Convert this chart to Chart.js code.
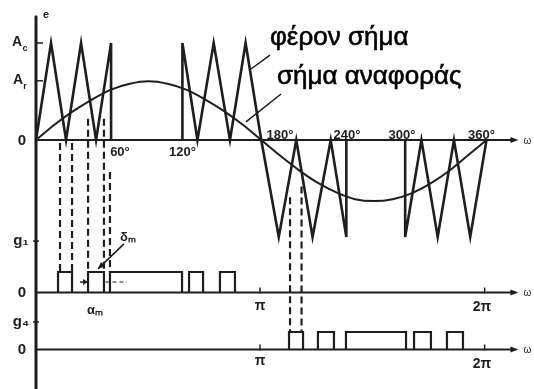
<!DOCTYPE html>
<html>
<head>
<meta charset="utf-8">
<script src="https://cdn.jsdelivr.net/npm/chart.js@4/dist/chart.umd.min.js"></script>
<style>
  html, body { margin: 0; padding: 0; background: #fff; }
  #wrap { width: 534px; height: 389px; position: relative; }
</style>
</head>
<body>
<div id="wrap"><canvas id="pwm"></canvas></div>
<script>
// ωt in degrees, amplitude in units of A_c (null = line break)
const carrierX = [0, 12, 24, 36, 48, 60, 60, 90, 117, 117, 129, 142, 155, 167.5, 180, 194, 208, 221, 235.5, 248, 248, 270, 295, 295, 308, 321, 334, 347, 360];
const carrierY = [0, 1, 0, 1, 0, 1, 0, null, 0, 1, 0, 1, 0, 1, 0, -1, 0, -1, 0, -1, 0, null, 0, -1, 0, -1, 0, -1, 0];

// reference (modulating) signal
const refX = [0, 15, 30, 45, 60, 75, 90, 105, 120, 135, 150, 165, 180, 195, 210, 225, 240, 255, 270, 285, 300, 315, 330, 345, 360];
const refY = [0, 0.16, 0.30, 0.42, 0.52, 0.58, 0.605, 0.58, 0.52, 0.42, 0.30, 0.16, 0, -0.16, -0.31, -0.44, -0.54, -0.61, -0.63, -0.61, -0.55, -0.45, -0.32, -0.16, 0];

// gate pulses [on, off] in degrees
const g1Pulses = [[17.6, 28.8], [41.6, 54.3], [59.1, 116.7], [122.3, 133.5], [147, 159]];
const g4Pulses = [[202.2, 213.4], [225.3, 238.1], [247.7, 295.7], [302.1, 315.6], [328.4, 341.2]];

// dashed projections: angle and starting level on the e axis
const g1DropX = [19.2, 28.8, 41.6, 54.3, 59.1];
const g1DropFrom = [0, 0, 0.25, 0.25, -0.3];
const g4DropX = [203, 212.2];
const g4DropFrom = [-0.59, -0.48];

// tick labels along ωt
const degLabels = ['60°', '120°', '180°', '240°', '300°', '360°'];
const degLabelX = [67.1, 117.1, 195, 248.5, 292.5, 356];
const degLabelY = [-0.13, -0.13, 0.05, 0.05, 0.05, 0.05];

const INK = '#1e1e1e';

function toPoints(xs, ys) {
  return xs.map((v, i) => ({ x: v, y: ys[i] }));
}

function pulsePoints(pulses) {
  const pts = [];
  pulses.forEach(p => {
    pts.push({ x: p[0], y: 0 }, { x: p[0], y: 1 }, { x: p[1], y: 1 }, { x: p[1], y: 0 });
    pts.push({ x: p[1], y: null });
  });
  return pts;
}

function arrowHead(ctx, x, y, ang, len, half) {
  ctx.beginPath();
  ctx.moveTo(x, y);
  ctx.lineTo(x - len * Math.cos(ang) + half * Math.sin(ang), y - len * Math.sin(ang) - half * Math.cos(ang));
  ctx.lineTo(x - len * Math.cos(ang) - half * Math.sin(ang), y - len * Math.sin(ang) + half * Math.cos(ang));
  ctx.closePath();
  ctx.fill();
}

function label(ctx, txt, px, py, font, align) {
  ctx.font = font;
  ctx.textAlign = align || 'center';
  ctx.textBaseline = 'middle';
  ctx.fillText(txt, px, py);
}

// axes go under the curves
const axesPlugin = {
  id: 'axesPlugin',
  beforeDatasetsDraw(chart) {
    const { ctx, scales: { x, y, g1, g4 } } = chart;
    const x0 = x.getPixelForValue(0);
    const xEnd = x.getPixelForValue(380);
    ctx.save();
    ctx.strokeStyle = INK;
    ctx.fillStyle = INK;

    // ωt axes with arrows
    [[y, 0], [g1, 0], [g4, 0]].forEach(([sc, v]) => {
      const py = sc.getPixelForValue(v);
      ctx.lineWidth = 1.8;
      ctx.beginPath();
      ctx.moveTo(x0, py);
      ctx.lineTo(xEnd, py);
      ctx.stroke();
      arrowHead(ctx, x.getPixelForValue(385.5), py, 0, 8, 3);
      label(ctx, 'ω', x.getPixelForValue(389.5), py + 1, '10px "Liberation Sans"', 'left');
    });

    // vertical e axis
    ctx.lineWidth = 3;
    ctx.lineCap = 'round';
    ctx.beginPath();
    ctx.moveTo(x0, y.getPixelForValue(1.27));
    ctx.lineTo(x0, chart.height + 2);
    ctx.stroke();

    // small ticks on the vertical axis
    ctx.lineWidth = 1.5;
    ctx.lineCap = 'butt';
    [y.getPixelForValue(1), y.getPixelForValue(0.61)].forEach(py => {
      ctx.beginPath();
      ctx.moveTo(x0, py);
      ctx.lineTo(x0 + 7, py);
      ctx.stroke();
    });
    [g1.getPixelForValue(2.51), g4.getPixelForValue(1.57)].forEach(py => {
      ctx.beginPath();
      ctx.moveTo(x0 - 3, py);
      ctx.lineTo(x0 + 3, py);
      ctx.stroke();
    });

    // π and 2π ticks
    [[g1, 179], [g1, 358.5], [g4, 179], [g4, 358.5]].forEach(([sc, d]) => {
      const px = x.getPixelForValue(d);
      const py = sc.getPixelForValue(0);
      ctx.beginPath();
      ctx.moveTo(px, py - 5);
      ctx.lineTo(px, py + 1);
      ctx.stroke();
    });

    // dashed projections down to the gate pulses
    ctx.lineWidth = 2.2;
    ctx.setLineDash([7, 4]);
    g1DropX.forEach((d, i) => {
      const px = x.getPixelForValue(d);
      ctx.beginPath();
      ctx.moveTo(px, y.getPixelForValue(g1DropFrom[i]) + 3);
      ctx.lineTo(px, g1.getPixelForValue(1));
      ctx.stroke();
    });
    g4DropX.forEach((d, i) => {
      const px = x.getPixelForValue(d);
      ctx.beginPath();
      ctx.moveTo(px, y.getPixelForValue(g4DropFrom[i]));
      ctx.lineTo(px, g4.getPixelForValue(1));
      ctx.stroke();
    });
    ctx.restore();
  },

  afterDatasetsDraw(chart) {
    const { ctx, scales: { x, y, g1, g4 } } = chart;
    const x0 = x.getPixelForValue(0);
    ctx.save();
    ctx.fillStyle = INK;
    ctx.strokeStyle = INK;
    const bold = 'bold 14px "Liberation Sans"';

    // e axis labels
    label(ctx, 'e', x0 + 10, y.getPixelForValue(1.29), 'bold 11px "Liberation Sans"');
    label(ctx, 'A', x0 - 19, y.getPixelForValue(1.01), bold);
    label(ctx, 'c', x0 - 11, y.getPixelForValue(0.94), 'bold 9px "Liberation Sans"');
    label(ctx, 'A', x0 - 18, y.getPixelForValue(0.62), bold);
    label(ctx, 'r', x0 - 11, y.getPixelForValue(0.55), 'bold 9px "Liberation Sans"');
    label(ctx, '0', x0 - 14, y.getPixelForValue(-0.01), 'bold 15px "Liberation Sans"');
    label(ctx, 'g₁', x0 - 15, g1.getPixelForValue(2.51), 'bold 15px "Liberation Sans"');
    label(ctx, '0', x0 - 14, g1.getPixelForValue(0), 'bold 15px "Liberation Sans"');
    label(ctx, 'g₄', x0 - 15, g4.getPixelForValue(1.57), 'bold 15px "Liberation Sans"');
    label(ctx, '0', x0 - 14, g4.getPixelForValue(0), 'bold 15px "Liberation Sans"');

    // degree ticks
    degLabels.forEach((t, i) => {
      label(ctx, t, x.getPixelForValue(degLabelX[i]), y.getPixelForValue(degLabelY[i]), 'bold 13px "Liberation Sans"');
    });

    // π / 2π labels
    label(ctx, 'π', x.getPixelForValue(179), g1.getPixelForValue(-0.66), bold);
    label(ctx, '2π', x.getPixelForValue(356.4), g1.getPixelForValue(-0.71), bold);
    label(ctx, 'π', x.getPixelForValue(179), g4.getPixelForValue(-0.66), bold);
    label(ctx, '2π', x.getPixelForValue(356.4), g4.getPixelForValue(-0.83), bold);

    // α_m and δ_m markers
    label(ctx, 'αₘ', x.getPixelForValue(47.1), g1.getPixelForValue(-0.85), 'bold 13px "Liberation Sans"');
    label(ctx, 'δₘ', x.getPixelForValue(73.5), g1.getPixelForValue(2.7), 'bold 13px "Liberation Sans"');
    ctx.lineWidth = 1.5;
    let ay = g1.getPixelForValue(0.51);
    ctx.beginPath();
    ctx.moveTo(x.getPixelForValue(35.2), ay);
    ctx.lineTo(x.getPixelForValue(41), ay);
    ctx.stroke();
    arrowHead(ctx, x.getPixelForValue(41.6), ay, 0, 5, 3);
    ctx.setLineDash([4, 3]);
    ctx.lineWidth = 1;
    ctx.beginPath();
    ctx.moveTo(x.getPixelForValue(55.5), ay);
    ctx.lineTo(x.getPixelForValue(72.7), ay);
    ctx.stroke();
    ctx.setLineDash([]);
    ctx.lineWidth = 1.6;
    const sx = x.getPixelForValue(70.3), sy = g1.getPixelForValue(2.37);
    const ex = x.getPixelForValue(49.5), ey = g1.getPixelForValue(1.15);
    ctx.beginPath();
    ctx.moveTo(sx, sy);
    ctx.lineTo(ex, ey);
    ctx.stroke();
    arrowHead(ctx, ex, ey, Math.atan2(ey - sy, ex - sx), 7, 3);

    // callouts, slightly heavier than plain regular weight
    ctx.fillStyle = '#000';
    ctx.strokeStyle = '#000';
    ctx.lineWidth = 0.6;
    const notes = [
      ['φέρον σήμα', 187, 0.97],
      ['σήμα αναφοράς', 192.6, 0.567]
    ];
    notes.forEach(([t, d, v]) => {
      const px = x.getPixelForValue(d), py = y.getPixelForValue(v) - 8;
      label(ctx, t, px, py, '26px "Liberation Sans"', 'left');
      ctx.strokeText(t, px, py);
    });
    ctx.strokeStyle = INK;
    ctx.lineWidth = 1.5;
    ctx.beginPath();
    ctx.moveTo(x.getPixelForValue(187), y.getPixelForValue(0.876));
    ctx.lineTo(x.getPixelForValue(171.8), y.getPixelForValue(0.732));
    ctx.moveTo(x.getPixelForValue(195.8), y.getPixelForValue(0.474));
    ctx.lineTo(x.getPixelForValue(167.8), y.getPixelForValue(0.186));
    ctx.stroke();
    ctx.restore();
  }
};

new Chart(document.getElementById('pwm'), {
  type: 'scatter',
  data: {
    datasets: [
      {
        label: 'σήμα αναφοράς',
        data: toPoints(refX, refY),
        showLine: true,
        cubicInterpolationMode: 'monotone',
        borderColor: INK,
        borderWidth: 2,
        pointRadius: 0,
        yAxisID: 'y'
      },
      {
        label: 'φέρον σήμα',
        data: toPoints(carrierX, carrierY),
        showLine: true,
        spanGaps: false,
        tension: 0,
        borderColor: INK,
        borderWidth: 2.6,
        borderJoinStyle: 'miter',
        pointRadius: 0,
        yAxisID: 'y'
      },
      {
        label: 'g1',
        data: pulsePoints(g1Pulses),
        showLine: true,
        spanGaps: false,
        borderColor: INK,
        borderWidth: 2.2,
        pointRadius: 0,
        yAxisID: 'g1'
      },
      {
        label: 'g4',
        data: pulsePoints(g4Pulses),
        showLine: true,
        spanGaps: false,
        borderColor: INK,
        borderWidth: 2.2,
        pointRadius: 0,
        yAxisID: 'g4'
      }
    ]
  },
  options: {
    responsive: true,
    maintainAspectRatio: false,
    animation: false,
    events: [],
    layout: { padding: 0, autoPadding: false },
    plugins: { legend: { display: false }, tooltip: { enabled: false } },
    scales: {
      x: { type: 'linear', min: -28.77, max: 397.96, display: false },
      y: { type: 'linear', min: -2.567, max: 1.4433, display: false },
      g1: { type: 'linear', min: -4.707, max: 14.268, display: false },
      g4: { type: 'linear', min: -2.257, max: 19.971, display: false }
    }
  },
  plugins: [axesPlugin]
});
</script>
</body>
</html>
